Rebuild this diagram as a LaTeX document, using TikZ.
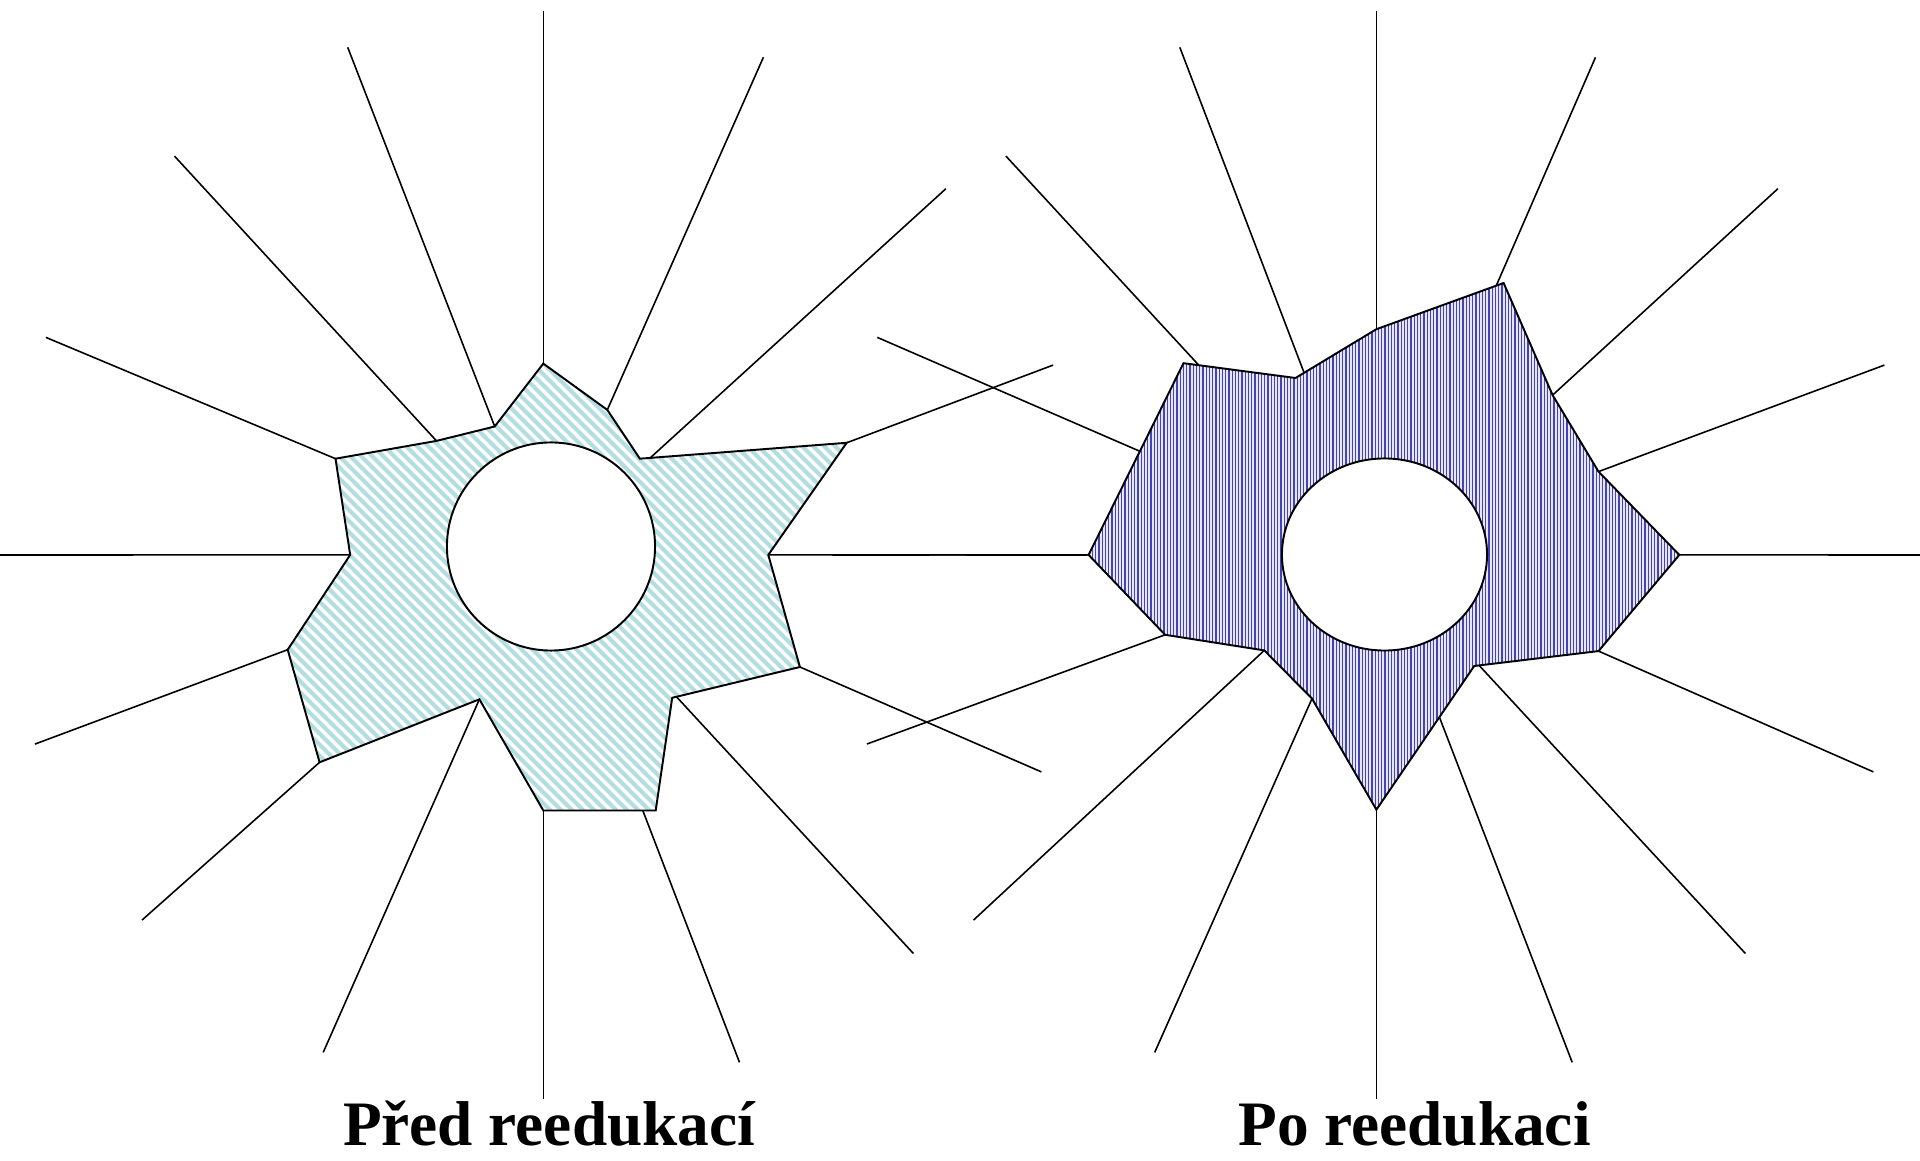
\documentclass[tikz,border=0pt]{standalone}
\usepackage{fontspec}
\setmainfont{Liberation Serif}
\usetikzlibrary{shapes.geometric}
\definecolor{cyanstripe}{RGB}{178,222,226}
\definecolor{navyline}{RGB}{68,68,178}
\definecolor{lavender}{RGB}{230,230,248}
\tikzset{
  spoke/.style={line width=0.45pt, black},
  outline/.style={draw=black, line width=0.55pt, line join=miter},
  stripe/.style={draw=cyanstripe, line width=0.04cm},
  vline/.style={draw=navyline, line width=0.011cm},
  hole/.style={fill=white, draw=black, line width=0.55pt},
  caption/.style={font=\fontsize{18}{21}\selectfont\bfseries, anchor=base, inner sep=0pt}
}
\begin{document}
\begin{tikzpicture}[x=0.01cm,y=-0.01cm]
\useasboundingbox (0,0) rectangle (1920,1161);
% ---------- left figure ----------
\foreach \n/\x/\y in {P1/543.3/363.6, P2/607.3/409.9, P3/639.8/458.7, P4/846.7/442.8,
  P5/768.3/554.9, P6/799.9/667.0, P7/672.2/697.8, P8/655.7/810.5, P9/543.3/810.5,
  P10/479.4/699.3, P11/319.6/762.3, P12/287.7/649.7, P13/350.2/554.9, P14/335.5/458.7,
  P15/436.5/440.9, P16/494.7/426.5,
  Pur2/650.2/457.9, Plr2/676.5/696.8, Plr1/642.8/810.5,
  Ot/543.3/11, Our1/763.4/57.3, Our2/945.9/188.7, Our3/1053.1/365.1, Or/1087.2/555,
  Olr3/1041.4/771.9, Olr2/913.4/953.5, Olr1/739.5/1062.4, Ob/543.3/1098.7,
  Oll1/323.2/1052.4, Oll2/142/920.1, Oll3/34.9/744.1, Ol/0/555,
  Oul3/45.9/337.4, Oul2/174.5/156.1, Oul1/347.7/47.3}
  \coordinate (\n) at (\x,\y);
% ---------- right figure ----------
\foreach \n/\x/\y in {Q1/1376.4/329.2, Q2/1503.6/283.0, Q3/1552.6/395.1, Q4/1598.5/471.6,
  Q5/1679.3/554.9, Q6/1598.5/651.1, Q7/1474.2/666.0, Q8/1376.4/809.7, Q9/1312.0/698.6,
  Q10/1264.3/650.4, Q11/1165.1/634.8, Q12/1088.6/554.9, Q13/1183.5/363.2, Q14/1295.5/378.0,
  Qur1/1496.3/285.6, Qlr2/1479.1/665.4, Qlr1/1439.4/717.1, Qul3/1139.9/451.3,
  Qul2/1198.8/365.2, Qul1/1304.1/372.8,
  Rt/1376.4/11, Rur1/1595.5/57.3, Rur2/1777.9/188.7, Rur3/1884.4/365.1, Rr/1920/555,
  Rlr3/1873.4/771.9, Rlr2/1745.4/953.5, Rlr1/1572.2/1062.4, Rb/1376.4/1098.7,
  Rll1/1154.7/1052.4, Rll2/973.5/920.1, Rll3/867/744, Rl/832.4/555,
  Rul3/877.3/337.4, Rul2/1005.9/156.1, Rul1/1179.8/47.3}
  \coordinate (\n) at (\x,\y);
\def\polyL{(P1) -- (P2) -- (P3) -- (P4) -- (P5) -- (P6) -- (P7) -- (P8) -- (P9)
  -- (P10) -- (P11) -- (P12) -- (P13) -- (P14) -- (P15) -- (P16) -- cycle}
\def\polyR{(Q1) -- (Q2) -- (Q3) -- (Q4) -- (Q5) -- (Q6) -- (Q7) -- (Q8) -- (Q9)
  -- (Q10) -- (Q11) -- (Q12) -- (Q13) -- (Q14) -- cycle}
% ---------- spokes ----------
\foreach \a/\b in {P1/Ot, P2/Our1, Pur2/Our2, P4/Our3, P5/Or, P6/Olr3, Plr2/Olr2, Plr1/Olr1,
  P9/Ob, P10/Oll1, P11/Oll2, P12/Oll3, P13/Ol, P14/Oul3, P15/Oul2, P16/Oul1,
  Q1/Rt, Qur1/Rur1, Q3/Rur2, Q4/Rur3, Q5/Rr, Q6/Rlr3, Qlr2/Rlr2, Qlr1/Rlr1,
  Q8/Rb, Q9/Rll1, Q10/Rll2, Q11/Rll3, Q12/Rl, Qul3/Rul3, Qul2/Rul2, Qul1/Rul1}
  \draw[spoke] (\a) -- (\b);
% ---------- shaded zone: before ----------
\fill[white] \polyL;
\begin{scope}
  \clip \polyL;
  \foreach \c in {-510,-499,...,550}
    \draw[stripe] (270,{270+\c}) -- (870,{870+\c});
\end{scope}
\draw[outline] \polyL;
% ---------- shaded zone: after ----------
\fill[lavender] \polyR;
\begin{scope}
  \clip \polyR;
  \foreach \k in {0,...,185}
    \draw[vline] ({1086+3.25*\k},270) -- ({1086+3.25*\k},815);
\end{scope}
\draw[outline] \polyR;
% ---------- holes ----------
\node[hole, circle, minimum size=2.08cm, inner sep=0pt] (holeL) at (551,546.5) {};
\node[hole, ellipse, minimum width=2.05cm, minimum height=1.92cm, inner sep=0pt] (holeR) at (1384.5,554.5) {};
% ---------- captions ----------
\node[caption] (capL) at (549,1146) {Před reedukací};
\node[caption] (capR) at (1414.5,1146) {Po reedukaci};
\end{tikzpicture}
\end{document}
